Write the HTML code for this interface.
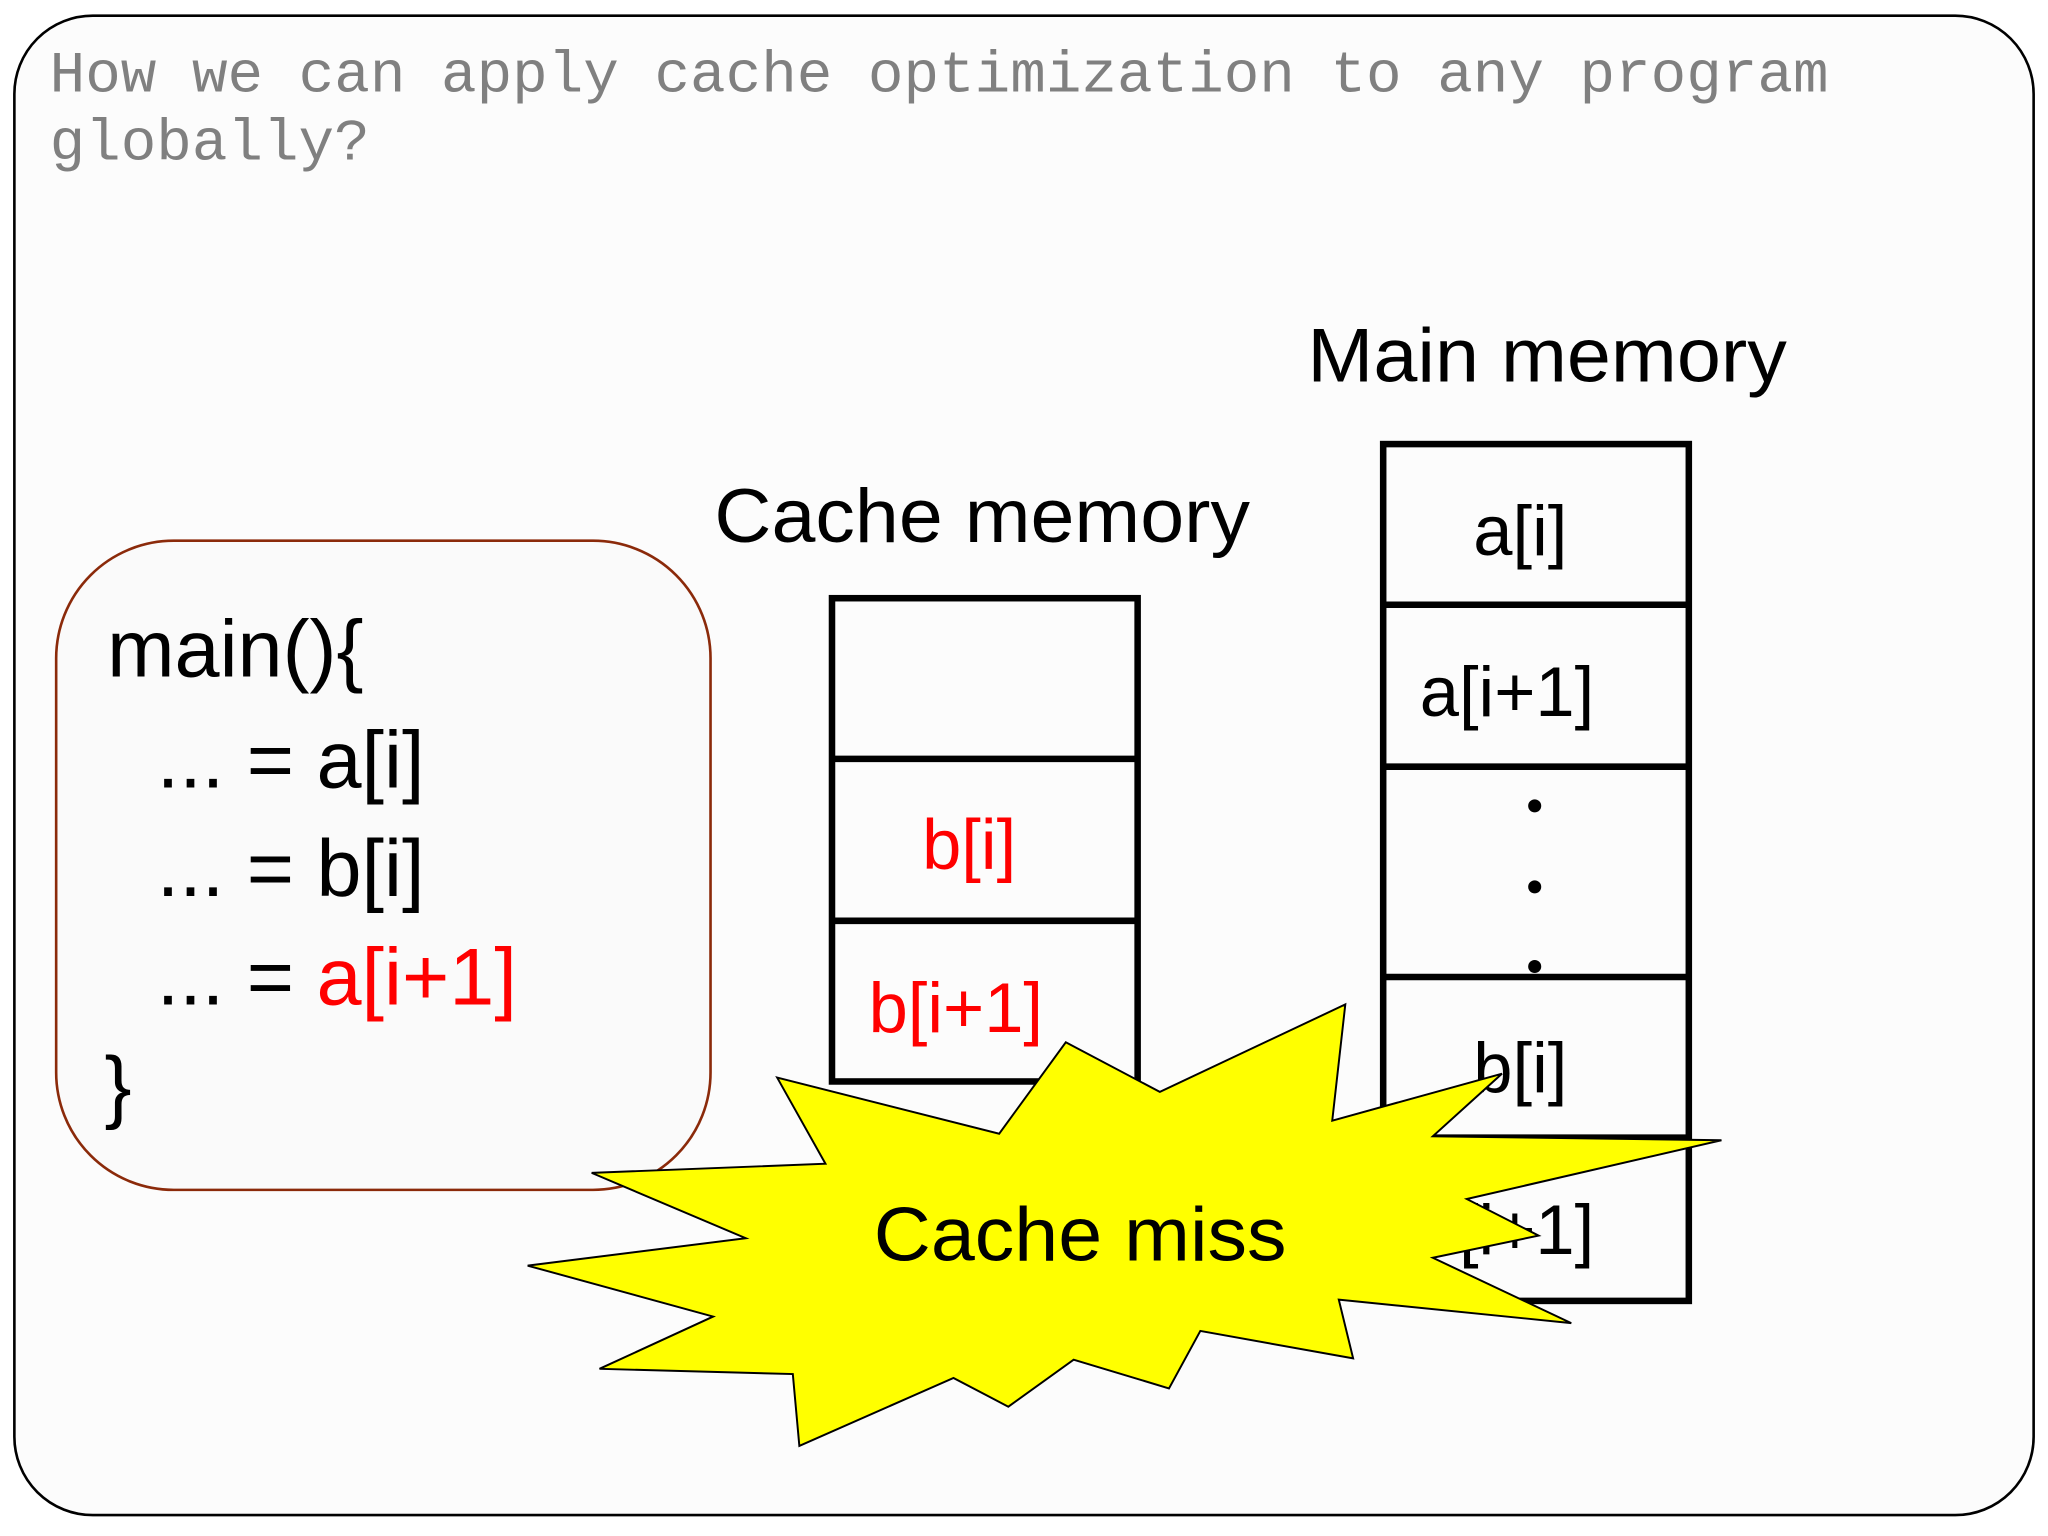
<!DOCTYPE html>
<html><head><meta charset="utf-8"><style>
html,body{margin:0;padding:0;background:#fff;}
svg{display:block;}
</style></head><body>
<svg width="2048" height="1536" viewBox="0 0 1568 1176" xmlns="http://www.w3.org/2000/svg">
<rect x="0" y="0" width="1568" height="1176" fill="#ffffff"/>
<rect x="11" y="12" width="1546" height="1148" rx="60" ry="60" fill="#fcfcfc" stroke="#000" stroke-width="2"/>
<g font-family="Liberation Mono, monospace" fill="#808080" font-size="45">
<text x="38" y="70" textLength="1362" lengthAdjust="spacingAndGlyphs">How we can apply cache optimization to any program</text>
<text x="38" y="122" textLength="245" lengthAdjust="spacingAndGlyphs">globally?</text>
</g>
<rect x="43" y="414" width="501" height="497" rx="90" ry="90" fill="#fafafa" stroke="#8b2a0a" stroke-width="2"/>
<g font-family="Liberation Sans, Arial, sans-serif" font-size="62" fill="#000">
<text x="82" y="518">main(){</text>
<text x="120" y="603">... = a[i]</text>
<text x="120" y="686">... = b[i]</text>
<text x="120" y="769">... = <tspan fill="#ff0000">a[i+1]</tspan></text>
<text x="80" y="852">}</text>
</g>
<g font-family="Liberation Sans, Arial, sans-serif" font-size="58" fill="#000">
<text x="547" y="415" textLength="410" lengthAdjust="spacingAndGlyphs">Cache memory</text>
<text x="1001" y="292" textLength="367" lengthAdjust="spacingAndGlyphs">Main memory</text>
</g>
<g fill="none" stroke="#000" stroke-width="5">
<rect x="637" y="458" width="234" height="370"/>
<line x1="637" y1="581" x2="871" y2="581"/>
<line x1="637" y1="705" x2="871" y2="705"/>
<rect x="1059" y="340" width="234" height="656"/>
<line x1="1059" y1="463" x2="1293" y2="463"/>
<line x1="1059" y1="587" x2="1293" y2="587"/>
<line x1="1059" y1="748" x2="1293" y2="748"/>
<line x1="1059" y1="871" x2="1293" y2="871"/>
</g>
<g font-family="Liberation Sans, Arial, sans-serif" font-size="54">
<text x="742" y="665" fill="#ff0000" text-anchor="middle">b[i]</text>
<text x="665" y="790" fill="#ff0000">b[i+1]</text>
<text x="1164" y="425" text-anchor="middle">a[i]</text>
<text x="1087" y="548">a[i+1]</text>
<text x="1164" y="836" text-anchor="middle">b[i]</text>
<text x="1087" y="960">b[i+1]</text>
</g>
<g fill="#000">
<circle cx="1175" cy="617" r="5"/>
<circle cx="1175" cy="679" r="5"/>
<circle cx="1175" cy="740" r="5"/>
</g>
<polygon points="595,825 765,868 816,798 888,836 1030,769 1020,858 1150,822 1097,870 1318,873 1123,918 1178,946 1097,963 1203,1013 1025,995 1036,1040 919,1019 895,1063 822,1041 772,1077 730,1055 612,1107 607,1052 459,1048 546,1008 404,969 571,948 453,898 632,891" fill="#ffff00" stroke="#000" stroke-width="1.5"/>
<text x="669" y="965" font-family="Liberation Sans, Arial, sans-serif" font-size="58" fill="#000" textLength="316" lengthAdjust="spacingAndGlyphs">Cache miss</text>
</svg>
</body></html>
